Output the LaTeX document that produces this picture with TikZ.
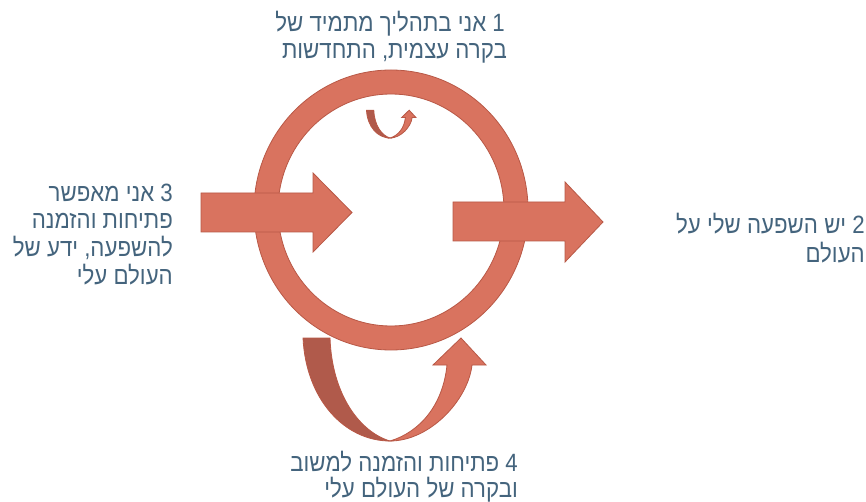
\documentclass[tikz,border=0pt]{standalone}
\usepackage{fontspec}
\newfontfamily\hebfont[Script=Hebrew,FakeStretch=0.89]{Liberation Sans}
\TeXXeTstate=1
\definecolor{fillc}{RGB}{217,115,95}
\definecolor{darkc}{RGB}{176,90,75}
\definecolor{edgec}{RGB}{184,88,70}
\definecolor{txtc}{RGB}{68,100,125}
\tikzset{
  shapestyle/.style={fill=fillc, draw=edgec, line width=0.8pt, line join=miter},
  backstyle/.style={fill=darkc, draw=edgec, line width=0.8pt},
  linetext/.style={anchor=base east, inner sep=0pt, text=txtc, font=\hebfont\fontsize{25}{28}\selectfont},
  uarrow/.pic={
    \path[backstyle] (-87,-103) .. controls (-84,-41) and (-45,0) .. (0,0)
      .. controls (-30,-9) and (-58,-46) .. (-60,-103) -- cycle;
    \path[shapestyle] (0,0) .. controls (40,0) and (78,-41) .. (82,-76)
      -- (96,-76) -- (71,-103) -- (43,-76) -- (57,-76)
      .. controls (53,-36) and (30,-9) .. (0,0) -- cycle;
  }
}
\begin{document}
\begin{tikzpicture}[x=1pt,y=-1pt]
\path[fill=white] (0,0) rectangle (866,502);
\useasboundingbox (0,0) rectangle (866,502);
% ring
\path[shapestyle, even odd rule] (391,210) ellipse [x radius=137pt, y radius=140pt]
  (391,210) ellipse [x radius=113pt, y radius=116pt];
% left arrow
\path[shapestyle] (201,193) -- (313,193) -- (313,173) -- (352,212.5) -- (313,252) -- (313,232) -- (201,232) -- cycle;
% right arrow
\path[shapestyle] (453,202) -- (565,202) -- (565,182) -- (603,222) -- (565,262) -- (565,241) -- (453,241) -- cycle;
% small curved arrow
\pic[scale=0.27] at (390,138) {uarrow};
% big curved arrow
\pic at (390,441) {uarrow};
% texts
\node[linetext] (t1a) at (505,32) {\beginR 1 אני בתהליך מתמיד של\endR};
\node[linetext] (t1b) at (507,59) {\beginR בקרה עצמית, התחדשות\endR};
\node[linetext] (t3a) at (173,202) {\beginR 3 אני מאפשר\endR};
\node[linetext] (t3b) at (173,229) {\beginR פתיחות והזמנה\endR};
\node[linetext] (t3c) at (173,257) {\beginR להשפעה, ידע של\endR};
\node[linetext] (t3d) at (173,284) {\beginR העולם עלי\endR};
\node[linetext] (t2a) at (865,234) {\beginR 2 יש השפעה שלי על\endR};
\node[linetext] (t2b) at (865,262) {\beginR העולם\endR};
\node[linetext] (t4a) at (518,471) {\beginR 4 פתיחות והזמנה למשוב\endR};
\node[linetext] (t4b) at (518,497) {\beginR ובקרה של העולם עלי\endR};
\end{tikzpicture}
\end{document}
